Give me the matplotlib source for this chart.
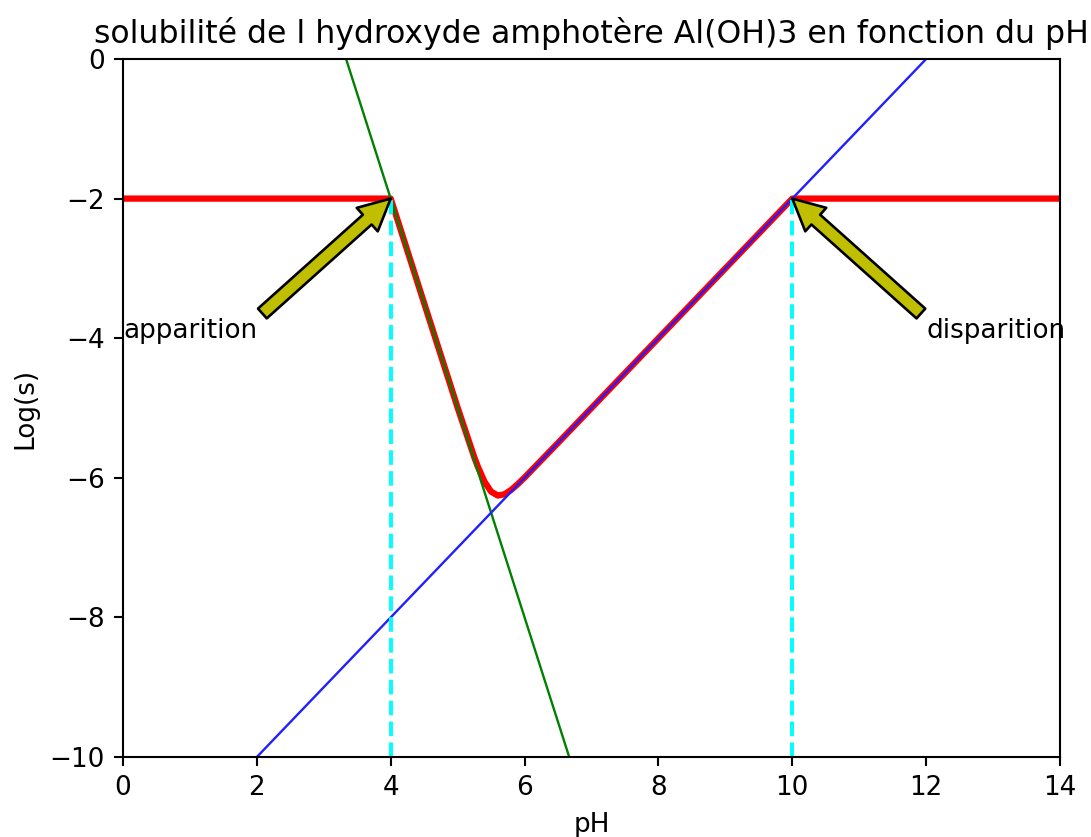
import matplotlib as mpl
mpl.use('Agg')
import matplotlib.pyplot as plt

# straight lines (endpoints)
ph_green = [3.333, 6.667]
log_green = [0, -10]
ph_blue = [2, 12]
log_blue = [-10, 0]

# red solubility curve
ph_red = [0, 4, 4.5, 5, 5.25, 5.3, 5.4, 5.5, 5.6, 5.7, 5.8, 5.9, 6, 6.5, 7, 8, 9, 10, 14]
log_red = [-2, -2, -3.5, -4.996, -5.709, -5.836, -6.054, -6.199, -6.254, -6.236,
           -6.173, -6.089, -5.996, -5.5, -5.0, -4.0, -3.0, -2, -2]

ph_marks = [4, 10]
log_marks = [-2, -2]

fig = plt.figure(figsize=(1091 / 189, 837 / 189), dpi=189)
ax = fig.add_axes([123 / 1091, 80 / 837, 937 / 1091, 698 / 837])

ax.plot(ph_red, log_red, color='r', linewidth=2.4)
ax.plot(ph_green, log_green, color='g', linewidth=0.9)
ax.plot(ph_blue, log_blue, color='#2020ff', linewidth=0.9)
for p, l in zip(ph_marks, log_marks):
    ax.plot([p, p], [-10, l], color='cyan', linestyle='--')

ax.annotate('apparition', xy=(4, -2), xytext=(0, -4),
            arrowprops=dict(facecolor='y', shrink=0.0, width=5))
ax.annotate('disparition', xy=(10, -2), xytext=(12, -4),
            arrowprops=dict(facecolor='y', shrink=0.0, width=5))

ax.set_xlim(0, 14)
ax.set_ylim(-10, 0)
ax.set_xlabel('pH')
ax.set_ylabel('Log(s)')
ax.set_title("solubilité de l hydroxyde amphotère Al(OH)3 en fonction du pH")

fig.savefig('out.png', dpi=189)
